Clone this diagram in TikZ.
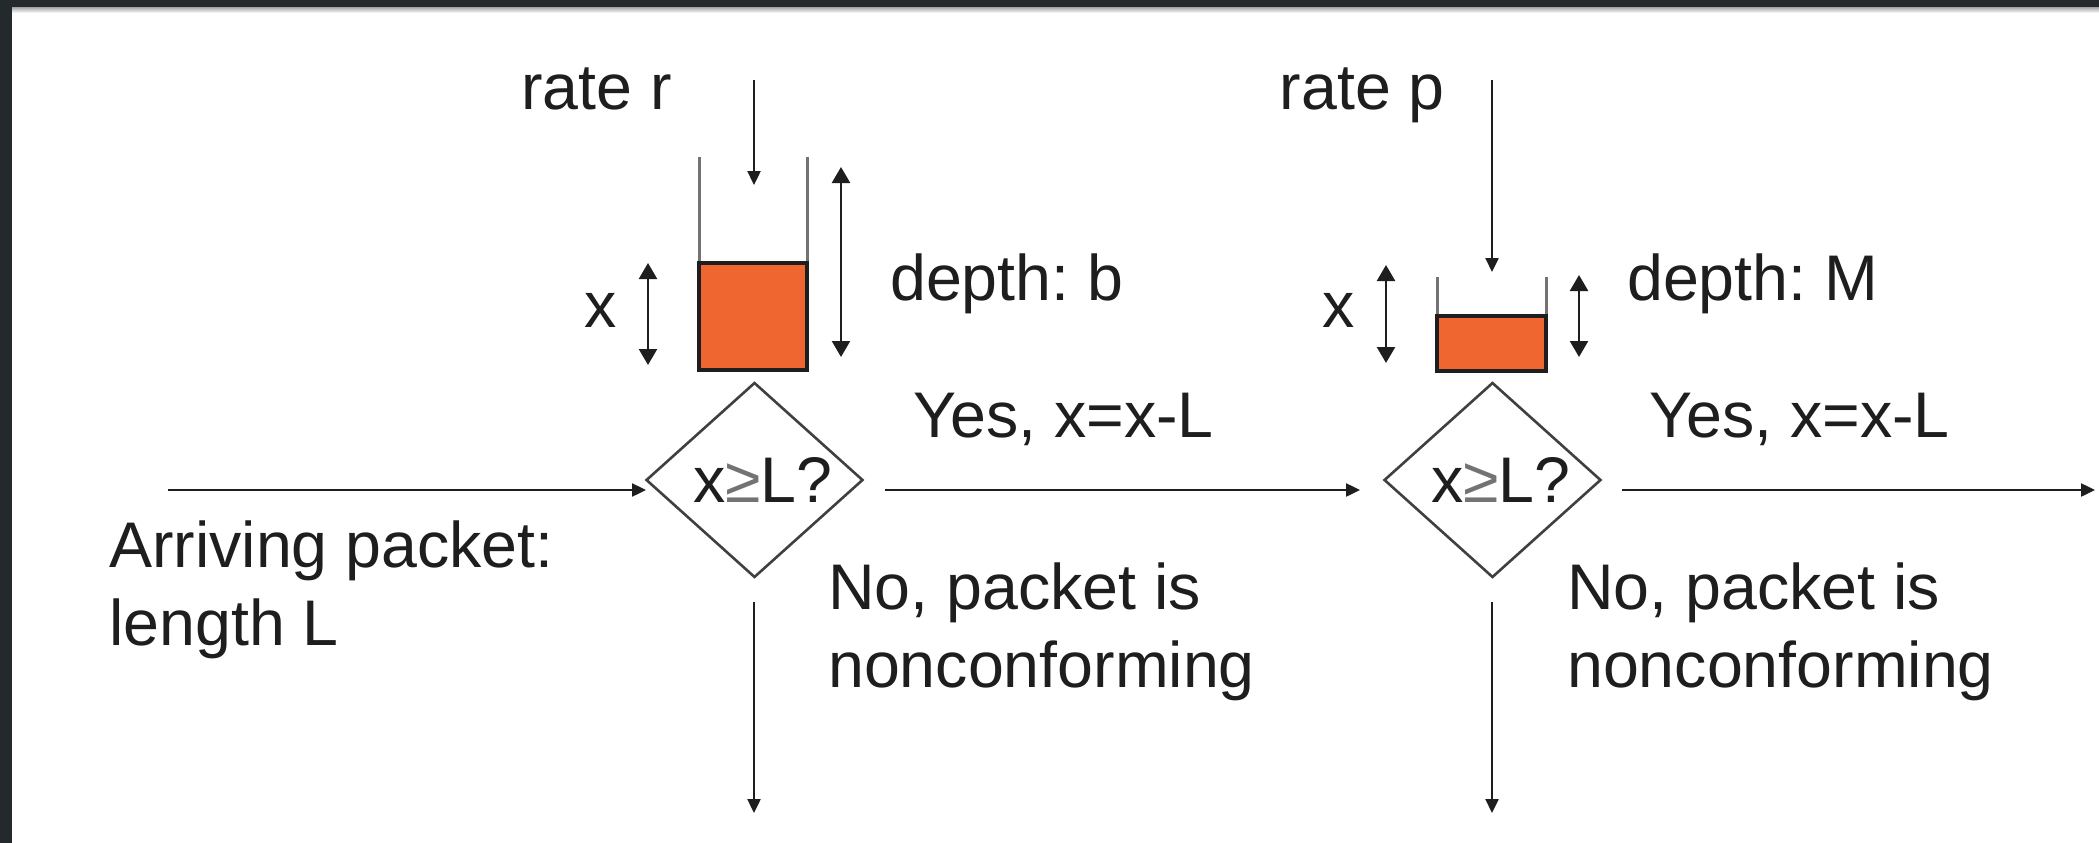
\documentclass[tikz,border=0pt]{standalone}
\usepackage{fontspec}
\setmainfont{Liberation Sans}
\usetikzlibrary{shapes.geometric,arrows.meta}
\definecolor{frame}{HTML}{24292C}
\definecolor{fillorange}{HTML}{EF6631}
\definecolor{ink}{HTML}{1E1E1E}
\frenchspacing
\begin{document}
\begin{tikzpicture}[x=1pt,y=-1pt,
  lbl/.style={inner sep=0pt, text=ink, font=\fontsize{64.5}{78}\selectfont},
  arr/.style={draw=ink, line width=2.4pt, -{Triangle[length=14pt,width=13pt]}},
  dbl/.style={draw=ink, line width=2.4pt,
    {Triangle[length=16pt,width=18pt]}-{Triangle[length=16pt,width=18pt]}},
  test/.style={draw=ink!85, line width=2.6pt, shape=diamond,
    minimum width=217pt, minimum height=195pt, inner sep=0pt},
  wall/.style={draw=black!55, line width=3pt},
  level/.style={draw=ink, line width=4pt, fill=fillorange}]

% slide frame
\fill[frame] (0,0) rectangle (2099,843);
\fill[white] (12,8) rectangle (2099,843);
\shade[top color=black!30, bottom color=white] (12,8) rectangle (2099,13);
\useasboundingbox (0,0) rectangle (2099,843);

% ---- first bucket (rate r, depth b)
\draw[wall] (699,157) -- (699,263);
\draw[wall] (807,157) -- (807,263);
\draw[level] (699,263) rectangle (807,370);

\node[lbl, anchor=base east] (rater) at (672,110) {rate r};
\coordinate (r0) at (754,80);
\coordinate (r1) at (754,185);
\draw[arr] (r0) -- (r1);

\node[lbl, anchor=base east] (x1) at (617,327) {x};
\coordinate (x1a) at (648,263);
\coordinate (x1b) at (648,365);
\draw[dbl] (x1a) -- (x1b);

\coordinate (b1a) at (841,167);
\coordinate (b1b) at (841,357);
\draw[dbl] (b1a) -- (b1b);
\node[lbl, anchor=base west] (depthb) at (890,300) {depth: b};

% ---- second bucket (rate p, depth M)
\draw[wall] (1437,277) -- (1437,316);
\draw[wall] (1546,277) -- (1546,316);
\draw[level] (1437,316) rectangle (1546,371);

\node[lbl, anchor=base east] (ratep) at (1445,110) {rate p};
\coordinate (p0) at (1492,80);
\coordinate (p1) at (1492,272);
\draw[arr] (p0) -- (p1);

\node[lbl, anchor=base east] (x2) at (1355,327) {x};
\coordinate (x2a) at (1386,265);
\coordinate (x2b) at (1386,363);
\draw[dbl] (x2a) -- (x2b);

\coordinate (m1a) at (1579,275);
\coordinate (m1b) at (1579,357);
\draw[dbl] (m1a) -- (m1b);
\node[lbl, anchor=base west] (depthm) at (1627,300) {depth: M};

% ---- decisions
\node[test] (d1) at (754.5,480) {};
\node[lbl] (q1) at (763,480) {x{\color{black!55}≥}L?};
\node[test] (d2) at (1492.5,480) {};
\node[lbl] (q2) at (1501,480) {x{\color{black!55}≥}L?};

% ---- packet flow
\node[lbl, anchor=north west, align=left] (arrive) at (109,521)
  {Arriving packet:\\length L};
\coordinate (in0) at (168,490);
\coordinate (in1) at (646,490);
\draw[arr] (in0) -- (in1);

\coordinate (y1a) at (885,490);
\coordinate (y1b) at (1360,490);
\draw[arr] (y1a) -- (y1b);
\node[lbl, anchor=base west] (yes1) at (913,437) {Yes, x=x-L};

\coordinate (y2a) at (1622,490);
\coordinate (y2b) at (2095,490);
\draw[arr] (y2a) -- (y2b);
\node[lbl, anchor=base west] (yes2) at (1649,437) {Yes, x=x-L};

\coordinate (n1a) at (754,602);
\coordinate (n1b) at (754,813);
\draw[arr] (n1a) -- (n1b);
\node[lbl, anchor=north west, align=left] (no1) at (828,563)
  {No, packet is\\nonconforming};

\coordinate (n2a) at (1492,602);
\coordinate (n2b) at (1492,813);
\draw[arr] (n2a) -- (n2b);
\node[lbl, anchor=north west, align=left] (no2) at (1567,563)
  {No, packet is\\nonconforming};
\end{tikzpicture}
\end{document}
